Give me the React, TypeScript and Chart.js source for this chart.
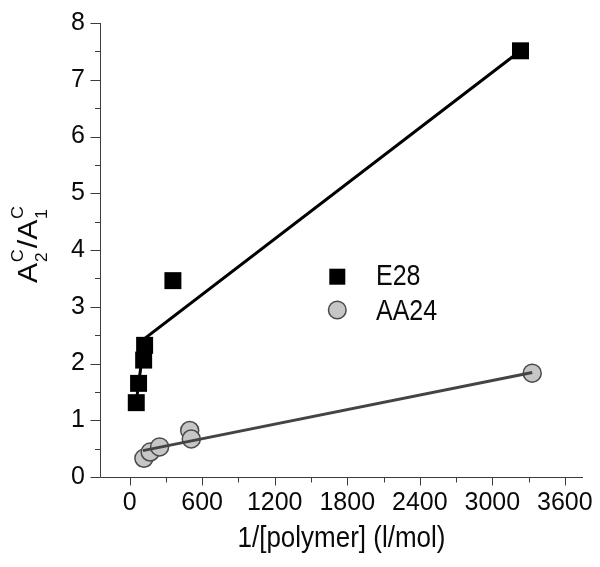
import React, { useEffect, useRef } from 'react';
import { Chart, registerables } from 'chart.js';

Chart.register(...registerables);

// ---- data ----
const e28X = [55, 74, 116, 124, 358, 3233];
const e28Y = [1.31, 1.65, 2.06, 2.32, 3.46, 7.51];
const aa24X = [118, 170, 248, 497, 510, 3330];
const aa24Y = [0.33, 0.44, 0.53, 0.82, 0.67, 1.83];

// fitted lines
const e28FitX = [50, 124, 3233];
const e28FitY = [1.25, 2.44, 7.51];
const aa24FitX = [110, 3330];
const aa24FitY = [0.465, 1.84];

const xTickValues = [0, 600, 1200, 1800, 2400, 3000, 3600];
const xMinorValues = [300, 900, 1500, 2100, 2700, 3300];
const yTickValues = [0, 1, 2, 3, 4, 5, 6, 7, 8];
const yMinorValues = [0.5, 1.5, 2.5, 3.5, 4.5, 5.5, 6.5, 7.5];

const seriesNames = ['E28', 'AA24'];
const xTitle = '1/[polymer] (l/mol)';

const FONT = 'Arial, "Liberation Sans", Helvetica, sans-serif';
const TEXT = '#0a0a0a';
const AXIS = '#3c3c3c';
const CIRCLE_FILL = '#c6c6c6';
const CIRCLE_BORDER = '#4a4a4a';
const LINE2 = '#444444';

function toPoints(xs: number[], ys: number[]) {
  return xs.map((x, i) => ({ x, y: ys[i] }));
}

function drawScaledText(
  ctx: CanvasRenderingContext2D,
  text: string,
  x: number,
  y: number,
  font: string,
  sx: number,
  sy: number
) {
  ctx.save();
  ctx.translate(x, y);
  ctx.scale(sx, sy);
  ctx.font = font;
  ctx.fillText(text, 0, 0);
  ctx.restore();
}

const decorPlugin = {
  id: 'decor',
  beforeDatasetsDraw(chart: any) {
    const ctx: CanvasRenderingContext2D = chart.ctx;
    const xs = chart.scales.x;
    const ys = chart.scales.y;
    const { left, right, bottom } = chart.chartArea;
    const lx = Math.round(left) + 0.5;
    const by = Math.round(bottom) + 0.5;
    ctx.save();
    ctx.strokeStyle = AXIS;
    ctx.lineWidth = 1;
    ctx.beginPath();
    ctx.moveTo(lx, ys.getPixelForValue(8));
    ctx.lineTo(lx, by);
    ctx.moveTo(lx, by);
    ctx.lineTo(right, by);
    yTickValues.forEach((v) => {
      const p = Math.round(ys.getPixelForValue(v)) + 0.5;
      ctx.moveTo(lx - 10, p);
      ctx.lineTo(lx, p);
    });
    yMinorValues.forEach((v) => {
      const p = Math.round(ys.getPixelForValue(v)) + 0.5;
      ctx.moveTo(lx - 5.5, p);
      ctx.lineTo(lx, p);
    });
    xTickValues.forEach((v) => {
      const p = Math.round(xs.getPixelForValue(v)) + 0.5;
      ctx.moveTo(p, by);
      ctx.lineTo(p, by + 8);
    });
    xMinorValues.forEach((v) => {
      const p = Math.round(xs.getPixelForValue(v)) + 0.5;
      ctx.moveTo(p, by);
      ctx.lineTo(p, by + 5);
    });
    ctx.stroke();
    ctx.restore();
  },
  afterDraw(chart: any) {
    const ctx: CanvasRenderingContext2D = chart.ctx;
    const { left, right } = chart.chartArea;
    ctx.save();
    ctx.fillStyle = TEXT;
    ctx.textBaseline = 'alphabetic';

    // x-axis title
    ctx.textAlign = 'center';
    drawScaledText(ctx, xTitle, (left + right) / 2, 547, `26px ${FONT}`, 1, 1.1);

    // y-axis title  A2^C / A1^C, rotated
    ctx.textAlign = 'left';
    ctx.save();
    ctx.translate(36.5, 283);
    ctx.rotate(-Math.PI / 2);
    ctx.scale(1.12, 1);
    const big = `27px ${FONT}`;
    const small = `16px ${FONT}`;
    let cx = 0;
    ctx.font = big;
    ctx.fillText('A', cx, 0);
    cx += ctx.measureText('A').width;
    ctx.font = small;
    ctx.fillText('C', cx + 0.5, -14);
    ctx.fillText('2', cx + 0.5, 10);
    cx += Math.max(ctx.measureText('C').width, ctx.measureText('2').width) + 1.5;
    ctx.font = big;
    ctx.fillText('/', cx, 0);
    cx += ctx.measureText('/').width;
    ctx.fillText('A', cx, 0);
    cx += ctx.measureText('A').width;
    ctx.font = small;
    ctx.fillText('C', cx + 0.5, -14);
    ctx.fillText('1', cx + 0.5, 10);
    ctx.restore();

    // legend
    const lxm = 337.3;
    const y1 = 276.7;
    const y2 = 310;
    ctx.fillStyle = '#000000';
    ctx.fillRect(lxm - 8, y1 - 8, 16, 16);
    ctx.beginPath();
    ctx.arc(lxm, y2, 8.8, 0, Math.PI * 2);
    ctx.fillStyle = CIRCLE_FILL;
    ctx.fill();
    ctx.lineWidth = 1.5;
    ctx.strokeStyle = CIRCLE_BORDER;
    ctx.stroke();
    ctx.fillStyle = TEXT;
    drawScaledText(ctx, seriesNames[0], 376, 285, `25px ${FONT}`, 1, 1.18);
    drawScaledText(ctx, seriesNames[1], 376, 320, `25px ${FONT}`, 1, 1.18);
    ctx.restore();
  },
};

export default function App() {
  const canvasRef = useRef<HTMLCanvasElement | null>(null);

  useEffect(() => {
    const canvas = canvasRef.current;
    if (!canvas) return;
    const chart = new Chart(canvas, {
      type: 'scatter',
      data: {
        datasets: [
          {
            label: 'E28 fit',
            type: 'line',
            data: toPoints(e28FitX, e28FitY),
            borderColor: '#000000',
            borderWidth: 3,
            pointRadius: 0,
            fill: false,
            tension: 0,
            order: 0,
          } as any,
          {
            label: 'AA24 fit',
            type: 'line',
            data: toPoints(aa24FitX, aa24FitY),
            borderColor: LINE2,
            borderWidth: 3,
            pointRadius: 0,
            fill: false,
            tension: 0,
            order: 0,
          } as any,
          {
            label: seriesNames[0],
            data: toPoints(e28X, e28Y),
            pointStyle: 'rect',
            pointRadius: 12,
            backgroundColor: '#000000',
            borderColor: '#000000',
            borderWidth: 0,
            order: 1,
          },
          {
            label: seriesNames[1],
            data: toPoints(aa24X, aa24Y),
            pointStyle: 'circle',
            pointRadius: 9,
            backgroundColor: CIRCLE_FILL,
            borderColor: CIRCLE_BORDER,
            borderWidth: 1.5,
            order: 1,
          },
        ],
      },
      options: {
        responsive: false,
        animation: false,
        devicePixelRatio: 1,
        layout: { padding: { left: 0, right: 17, top: 23, bottom: 0 } },
        plugins: {
          legend: { display: false },
          tooltip: { enabled: false },
          title: { display: false },
        },
        scales: {
          x: {
            type: 'linear',
            min: -245,
            max: 3750,
            grid: { display: false, drawTicks: false },
            border: { display: false },
            afterBuildTicks: (scale: any) => {
              scale.ticks = xTickValues.map((v) => ({ value: v }));
            },
            afterFit: (scale: any) => {
              scale.height = 90;
              scale.paddingLeft = 0;
              scale.paddingRight = 0;
              scale.paddingTop = 0;
              scale.paddingBottom = 0;
            },
            ticks: {
              autoSkip: false,
              maxRotation: 0,
              padding: 11,
              color: TEXT,
              font: { family: FONT, size: 25 },
              callback: (v: any) => String(v),
            },
          },
          y: {
            type: 'linear',
            min: 0,
            max: 8,
            grid: { display: false, drawTicks: false },
            border: { display: false },
            afterBuildTicks: (scale: any) => {
              scale.ticks = yTickValues.map((v) => ({ value: v }));
            },
            afterFit: (scale: any) => {
              scale.width = 100;
              scale.paddingLeft = 0;
              scale.paddingRight = 0;
              scale.paddingTop = 0;
              scale.paddingBottom = 0;
            },
            ticks: {
              autoSkip: false,
              padding: 15,
              color: TEXT,
              font: { family: FONT, size: 25 },
              callback: (v: any) => String(v),
            },
          },
        },
      },
      plugins: [decorPlugin],
    });
    return () => chart.destroy();
  }, []);

  return (
    <div style={{ position: 'fixed', left: 0, top: 0, width: 600, height: 567, background: '#ffffff' }}>
      <canvas ref={canvasRef} width={600} height={567} style={{ display: 'block' }} />
    </div>
  );
}
